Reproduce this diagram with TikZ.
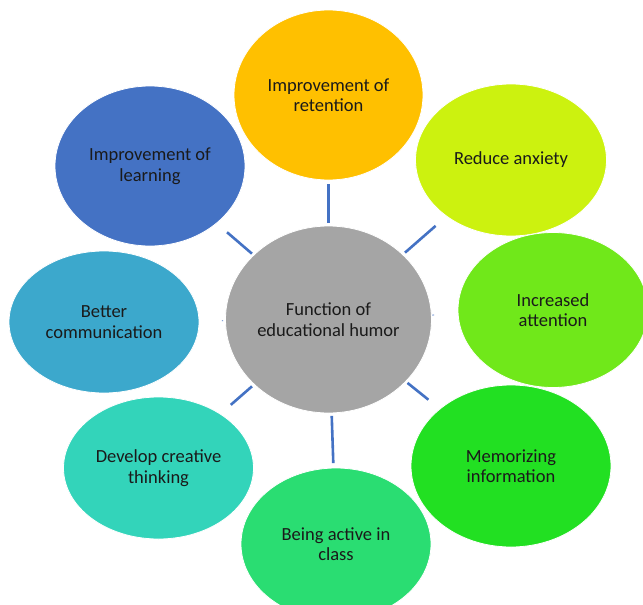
\documentclass[tikz,border=0pt]{standalone}
\usepackage{fontspec}
\setmainfont{Carlito}
\usetikzlibrary{shapes.geometric}
\definecolor{cOrange}{HTML}{FFC000}
\definecolor{cBlue}{HTML}{4472C4}
\definecolor{cLime}{HTML}{CCF20F}
\definecolor{cAtt}{HTML}{70E81A}
\definecolor{cMem}{HTML}{22E022}
\definecolor{cAct}{HTML}{2ADD72}
\definecolor{cCre}{HTML}{33D4BA}
\definecolor{cCom}{HTML}{3CA8CC}
\definecolor{cGray}{HTML}{A5A5A5}
\definecolor{cLine}{HTML}{4472C4}
\definecolor{cText}{HTML}{1A1A1A}
\tikzset{
  bub/.style={ellipse, inner sep=0pt, draw=white, line width=0.8pt, align=center,
    text=cText, font=\fontsize{18.5}{20.5}\selectfont},
  conn/.style={draw=cLine, line width=2.6pt},
  tick/.style={draw=cLine, line width=0.8pt}
}
\begin{document}
\begin{tikzpicture}[x=1pt,y=-1pt]
\useasboundingbox (0,0) rectangle (643,605);
\fill[white] (0,0) rectangle (643,605);
\node[bub, fill=cOrange, minimum width=189pt, minimum height=170pt] (ret) at (328.5,95) {Improvement of\\retention};
\node[bub, fill=cBlue, minimum width=190pt, minimum height=160pt] (lea) at (150,166) {Improvement of\\learning};
\node[bub, fill=cLime, minimum width=191pt, minimum height=152pt] (anx) at (511,160) {Reduce anxiety};
\node[bub, fill=cAtt, minimum width=190pt, minimum height=155pt] (att) at (553,310) {Increased\\attention};
\node[bub, fill=cCom, minimum width=190pt, minimum height=142pt] (com) at (104,322) {Better\\communication};
\node[bub, fill=cCre, minimum width=190pt, minimum height=142pt] (cre) at (158.5,468) {Develop creative\\thinking};
\node[bub, fill=cMem, minimum width=200pt, minimum height=162pt] (mem) at (511,466) {Memorizing\\information};
\node[bub, fill=cAct, minimum width=190pt, minimum height=152pt] (act) at (336,544) {Being active in\\class};
\node[bub, fill=cGray, minimum width=206pt, minimum height=187pt] (c) at (328.5,319.5) {Function of\\educational humor};
% connectors
\draw[conn, shorten <=96.5pt, shorten >=89pt] (c.center) -- (ret.center);
\draw[conn, shorten <=101pt, shorten >=101.6pt] (c.center) -- (lea.center);
\draw[conn, shorten <=101.6pt, shorten >=100.1pt] (c.center) -- (anx.center);
\draw[conn, shorten <=101.6pt, shorten >=96pt] (c.center) -- (cre.center);
\draw[conn, shorten <=101.3pt, shorten >=105.9pt] (c.center) -- (mem.center);
\draw[conn, shorten <=96.5pt, shorten >=81pt] (c.center) -- (act.center);
\draw[tick, shorten <=104pt, shorten >=119pt] (c.center) -- (att.center);
\draw[tick, shorten <=105.5pt, shorten >=118pt] (c.center) -- (com.center);
\end{tikzpicture}
\end{document}
